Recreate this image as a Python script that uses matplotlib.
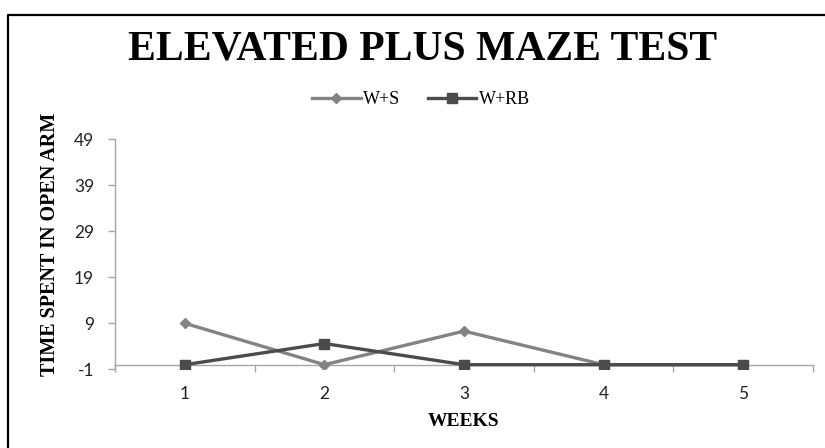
import matplotlib
matplotlib.use("Agg")
import matplotlib.pyplot as plt
from matplotlib.lines import Line2D
import numpy as np

weeks = [1, 2, 3, 4, 5]
week_labels = ["1", "2", "3", "4", "5"]
ws_values = [9.0, 0.0, 7.3, 0.0, 0.0]
wrb_values = [0.0, 4.6, 0.0, 0.0, 0.0]
y_ticks = [-1, 9, 19, 29, 39, 49]

W, H = 825, 448
fig = plt.figure(figsize=(W / 100, H / 100), dpi=100)
fig.patch.set_facecolor("white")

# outer border (top and left)
fig.add_artist(Line2D([8 / W, 8 / W, 1.0], [0.0, 1 - 15 / H, 1 - 15 / H],
                      transform=fig.transFigure, color="black", lw=1.6))

left, right = 115 / W, 813 / W
bottom, top = 1 - 369.3 / H, 1 - 139.3 / H
ax = fig.add_axes([left, bottom, right - left, top - bottom])

c_ws = "#838383"
c_wrb = "#4b4b4b"
ax.plot(weeks, ws_values, color=c_ws, lw=2.4, marker="D", ms=5,
        markerfacecolor=c_ws, markeredgecolor=c_ws, label="W+S", zorder=3)
ax.plot(weeks, wrb_values, color=c_wrb, lw=2.4, marker="s", ms=7.5,
        markerfacecolor=c_wrb, markeredgecolor=c_wrb, label="W+RB", zorder=4)

ax.set_xlim(0.5, 5.5)
ax.set_ylim(-1, 49)

axis_col = "#a6a6a6"
for s in ["top", "right"]:
    ax.spines[s].set_visible(False)
ax.spines["left"].set_color(axis_col)
ax.spines["bottom"].set_color(axis_col)
ax.spines["bottom"].set_position(("data", 0))
ax.spines["left"].set_linewidth(1.0)
ax.spines["bottom"].set_linewidth(1.0)

tick_font = dict(family="Lato", size=12.5)
ax.set_yticks(y_ticks)
ax.set_yticklabels([str(t) for t in y_ticks], fontdict=tick_font, color="#222222")
ax.tick_params(axis="y", direction="out", length=5, width=1, color=axis_col, pad=10)

ax.set_xticks(weeks)
ax.set_xticklabels(week_labels, fontdict=tick_font, color="#222222")
ax.set_xticks(np.arange(0.5, 6.0, 1.0), minor=True)
ax.tick_params(axis="x", which="major", length=0, pad=15)
ax.tick_params(axis="x", which="minor", direction="out", length=5, width=1, color=axis_col)

ax.set_xlabel("WEEKS", family="Liberation Serif", fontweight="bold", fontsize=14, labelpad=8)
fig.text(50 / W, 1 - 244 / H, "TIME SPENT IN OPEN ARM", family="Liberation Serif",
         fontweight="bold", fontsize=14.5, rotation=90, ha="center", va="center")

fig.text(423 / W, 1 - 50 / H, "ELEVATED PLUS MAZE TEST", family="Liberation Serif",
         fontweight="bold", fontsize=30, ha="center", va="center")

leg = fig.legend(loc="center", bbox_to_anchor=(421 / W, 1 - 100 / H), ncol=2, frameon=False,
                 prop=dict(family="Liberation Serif", size=13), handlelength=2.7,
                 columnspacing=1.5, handletextpad=0.15)

fig.savefig("out.png", dpi=100, facecolor="white")
